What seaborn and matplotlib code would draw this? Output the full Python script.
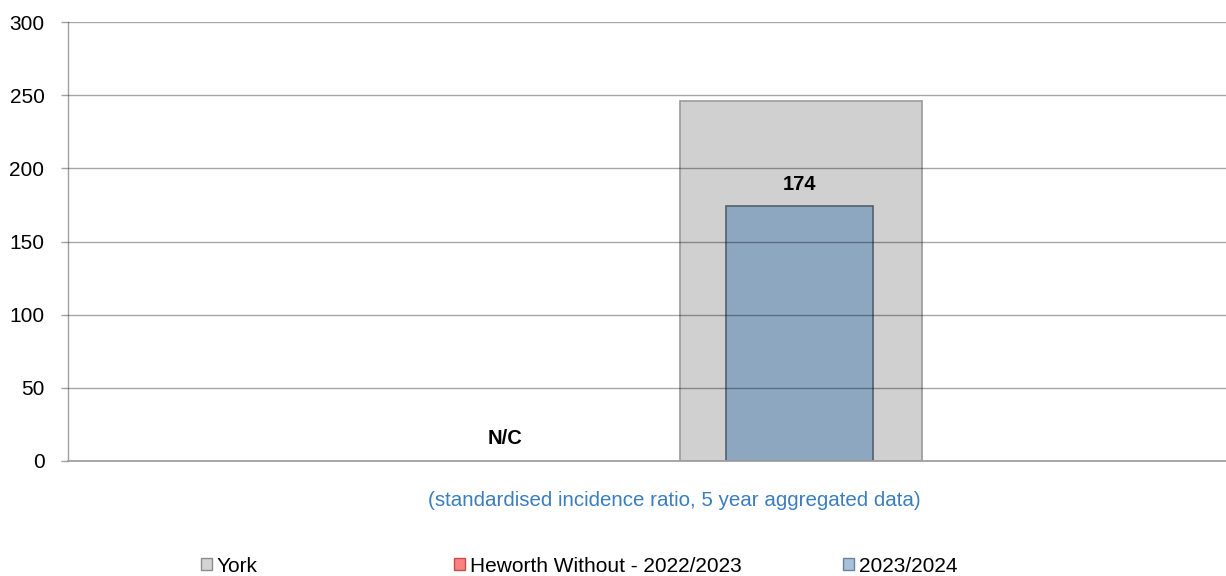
import numpy as np
import pandas as pd
import matplotlib
matplotlib.use("Agg")
import matplotlib.pyplot as plt
from matplotlib.patches import Patch
import seaborn as sns

# ---- data ----
series_names = ["York", "Heworth Without - 2022/2023", "2023/2024"]
york_value = [246]
heworth_values = [np.nan, 174]          # 2022/2023 not calculable
heworth_labels = ["N/C", "174"]
y_ticks = [0, 50, 100, 150, 200, 250, 300]
subtitle = "(standardised incidence ratio, 5 year aggregated data)"

# ---- layout (axis fractions) ----
period_pos = [0.377, 0.632]
york_pos = [0.633]
york_width = 0.209
bar_width = 0.127

colors = {"York": "#D0D0D0", "Heworth Without - 2022/2023": "#FF8080", "2023/2024": "#8DA7C1"}
legend_colors = {"York": "#D4D4D4", "Heworth Without - 2022/2023": "#FF8080", "2023/2024": "#A9C0D9"}

sns.set_theme(style="white")
plt.rcParams["font.family"] = ["Liberation Sans", "DejaVu Sans"]
plt.rcParams["text.color"] = "#000000"

fig = plt.figure(figsize=(12.26, 5.76), dpi=100)
ax = fig.add_axes([68 / 1226, 1 - 461 / 576, 1 - 68 / 1226, (461 - 22) / 576])

york_df = pd.DataFrame({"x": york_pos, "value": york_value})
sns.barplot(data=york_df, x="x", y="value", native_scale=True, width=york_width,
            color=colors["York"], edgecolor="#9A9A9A", linewidth=1.2,
            saturation=1, ax=ax, zorder=1)

hw_df = pd.DataFrame({"x": period_pos, "value": heworth_values})
hw_plot = hw_df.dropna()
sns.barplot(data=hw_plot, x="x", y="value", native_scale=True, width=bar_width,
            color=colors["2023/2024"], edgecolor="#555F6A", linewidth=1.2,
            saturation=1, ax=ax, zorder=2)

# value labels
for xp, val, lab in zip(period_pos, heworth_values, heworth_labels):
    yv = 0 if np.isnan(val) else val
    ax.annotate(lab, (xp, yv), xytext=(0, 9), textcoords="offset points",
                ha="center", va="bottom", fontsize=14.5, fontweight="bold",
                color="#000000")

ax.set_xlim(0, 1)
ax.set_ylim(0, 300)
ax.set_yticks(y_ticks)
ax.set_xticks([])
ax.set_xlabel("")
ax.set_ylabel("")

# gridlines drawn over the bars
for yt in y_ticks[1:]:
    ax.axhline(yt, color="black", alpha=0.35, linewidth=1.0, zorder=3)

for side in ["top", "right"]:
    ax.spines[side].set_visible(False)
ax.spines["left"].set_color("#A0A0A0")
ax.spines["bottom"].set_color("#A0A0A0")
ax.spines["bottom"].set_linewidth(1.3)
ax.spines["left"].set_linewidth(1.0)
ax.tick_params(axis="y", which="major", left=True, length=5, width=1,
               color="#A0A0A0", pad=12, labelsize=15, labelcolor="#000000")
ax.set_facecolor("white")

fig.text(674 / 1226, 1 - 500 / 576, subtitle, ha="center", va="center",
         fontsize=14.8, color="#3A7DC0")

# legend entries
legend_x = [201 / 1226, 454 / 1226, 843 / 1226]
edge_cols = ["#8C8C8C", "#C0504D", "#6A829C"]
for name, lx, ec in zip(series_names, legend_x, edge_cols):
    h = Patch(facecolor=legend_colors[name], edgecolor=ec, linewidth=1)
    leg = fig.legend(handles=[h], labels=[name], loc="center left",
                     bbox_to_anchor=(lx, 1 - 566 / 576), frameon=False,
                     fontsize=15, handlelength=0.55, handleheight=0.55,
                     handletextpad=0.2, borderpad=0, borderaxespad=0)
    for t in leg.get_texts():
        t.set_color("#000000")

fig.savefig("out.png", dpi=100, facecolor="white")
